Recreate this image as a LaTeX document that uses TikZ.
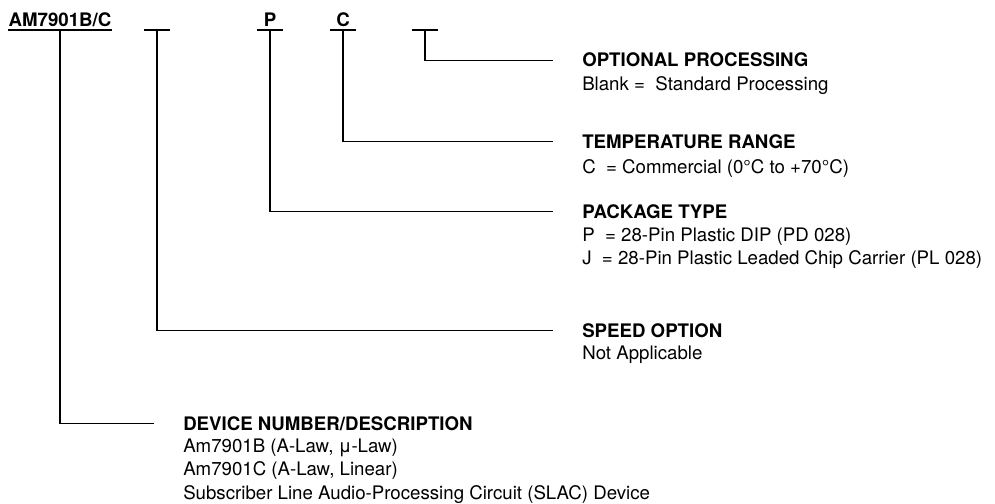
\documentclass[tikz,border=0pt]{standalone}
\usepackage{fontspec}
\setmainfont{TeX Gyre Heros}
\usetikzlibrary{%
  positioning,% wg. " of "
  calc% wg. ($...$)
}

\tikzset{
  field/.style={inner sep=0pt, minimum width=18.75pt, anchor=base,
    font=\fontsize{14}{17.5}\selectfont\bfseries},
  head/.style={anchor=base west, inner sep=0pt,
    font=\fontsize{14}{17.5}\selectfont\bfseries},
  desc/.style={anchor=north west, align=left, inner sep=0pt,
    font=\fontsize{14}{17.5}\selectfont},
  bar/.style={line width=1.6pt},
  lead/.style={line width=1.4pt},
}

\begin{document}
\begin{tikzpicture}[x=0.75pt,y=-0.75pt]
    \useasboundingbox (0,0) rectangle (995,503);

    %order code
    \node[field] (dev) at (60,27) {AM7901B/C};
    \node[field] (spd) at (157,27) {};
    \node[field] (pkg) at (270,27) {P};
    \node[field] (tmp) at (343,27) {C};
    \node[field] (opt) at (425,27) {};

    \draw[bar] ($(dev.base west)+(0,3)$) -- ($(dev.base east)+(0,3)$);
    \foreach \f in {spd,pkg,tmp,opt}
      \draw[bar] ($(\f.base west)+(0,3)$) -- ($(\f.base east)+(0,3)$);

    %headings
    \node[head] (optH) at (582,67) {OPTIONAL PROCESSING};
    \node[head] (tmpH) at (582,148) {TEMPERATURE RANGE};
    \node[head] (pkgH) at (582,218) {PACKAGE TYPE};
    \node[head] (spdH) at (582,337) {SPEED OPTION};
    \node[head] (devH) at (183,430) {DEVICE NUMBER/DESCRIPTION};

    %descriptions
    \node[below=5.25pt of optH.base west, desc] (optD) {\strut Blank =\ \ Standard Processing};
    \node[below=6.5pt of tmpH.base west, desc] (tmpD) {\strut C\ \ = Commercial (0°C to +70°C)};
    \node[below=5.25pt of pkgH.base west, desc] (pkgD) {\strut P\ \ =\ 28-Pin Plastic DIP (PD 028)\\J\ \ =\ 28-Pin Plastic Leaded Chip Carrier (PL 028)};
    \node[below=4.5pt of spdH.base west, desc] (spdD) {\strut Not Applicable};
    \node[below=4.5pt of devH.base west, desc] (devD) {\strut Am7901B (A-Law, μ-Law)\\Am7901C (A-Law, Linear)\\Subscriber Line Audio-Processing Circuit (SLAC) Device};

    %leads
    \foreach \f/\h in {opt/optH,tmp/tmpH,pkg/pkgH,spd/spdH,dev/devH}
      \draw[lead] ($(\f.base)+(0,3)$) |- ($(\h.base west)+(-29,-6.5)$);

\end{tikzpicture}
\end{document}
